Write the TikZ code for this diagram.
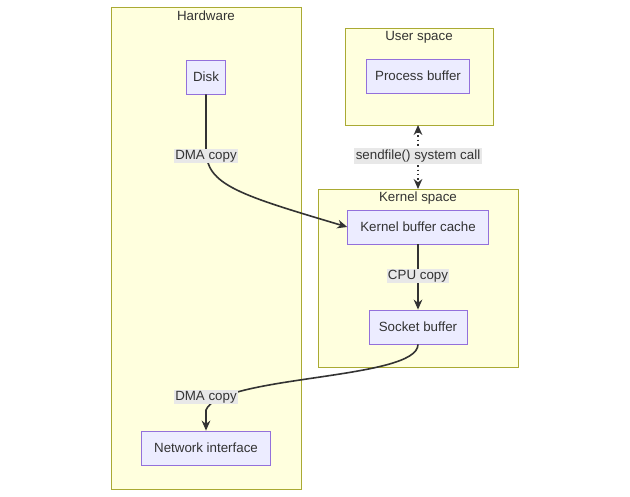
\documentclass[tikz,border=0pt]{standalone}
\usepackage{fontspec}
\setmainfont{Liberation Sans}
\usetikzlibrary{arrows.meta}
\definecolor{clf}{HTML}{FFFFDE}
\definecolor{cls}{HTML}{AAAA33}
\definecolor{ndf}{HTML}{ECECFF}
\definecolor{nds}{HTML}{9370DB}
\definecolor{lbl}{HTML}{E8E8E8}
\definecolor{ln}{HTML}{333333}
\begin{document}
\begin{tikzpicture}[x=0.75pt,y=-0.75pt,font=\fontsize{10}{12}\selectfont,
  clus/.style={draw=cls,fill=clf,line width=0.6pt},
  nd/.style={draw=nds,fill=ndf,line width=0.6pt,inner sep=0pt,minimum height=25.5pt,text=ln},
  lab/.style={fill=lbl,inner sep=1pt,text=ln},
  tt/.style={text=ln},
  ar/.style={draw=ln,line width=1.2pt,-{Stealth[length=7.5pt,width=6.5pt]}}]
\useasboundingbox (0,0) rectangle (630,496);
\fill[white] (0,0) rectangle (630,496);
\draw[clus] (111,7) rectangle (301,489);
\draw[clus] (345,28) rectangle (493,125);
\draw[clus] (318,189) rectangle (518,367);
\node[tt] (th) at (206,16) {Hardware};
\node[tt] (tu) at (419,37) {User space};
\node[tt] (tk) at (418,198) {Kernel space};
\node[nd,minimum width=29pt] (disk) at (206,77) {Disk};
\node[nd,minimum width=96.5pt] (net) at (206,448) {Network interface};
\node[nd,minimum width=77pt] (proc) at (418,76) {Process buffer};
\node[nd,minimum width=105.5pt] (kbc) at (418,227) {Kernel buffer cache};
\node[nd,minimum width=73.5pt] (sock) at (418,327) {Socket buffer};
\coordinate (ut) at (418,125);
\coordinate (kt) at (418,189);
\draw[ar] (disk.south) -- (206,150) .. controls (206,185) and (240,195) .. (kbc.west);
\draw[draw=ln,line width=1.2pt,dotted,{Stealth[length=7.5pt,width=6.5pt]}-{Stealth[length=7.5pt,width=6.5pt]}] (ut) -- (kt);
\draw[ar] (kbc.south) -- (sock.north);
\draw[ar] (sock.south) .. controls (418,380) and (220,375) .. (206,410) -- (net.north);
\node[lab] (l1) at (206,156) {DMA copy};
\node[lab] (l2) at (418,156) {sendfile() system call};
\node[lab] (l3) at (418,276) {CPU copy};
\node[lab] (l4) at (206,397) {DMA copy};
\end{tikzpicture}
\end{document}
